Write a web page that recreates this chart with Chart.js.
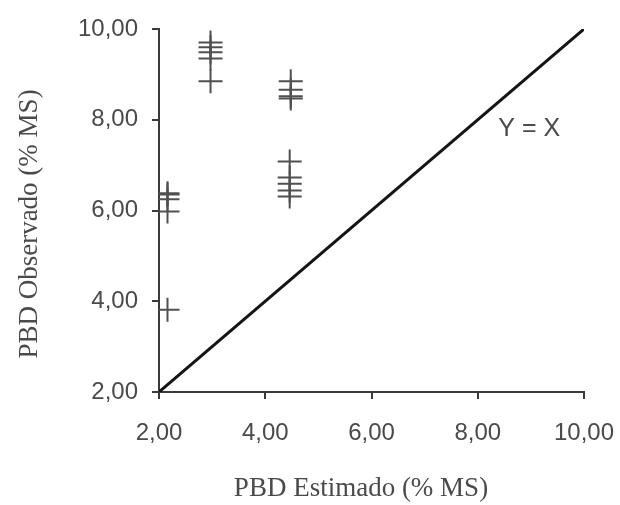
<!DOCTYPE html>
<html>
<head>
<meta charset="utf-8">
<script src="https://cdn.jsdelivr.net/npm/chart.js@4"></script>
<style>
  body { margin: 0; background: #fff; }
  #wrap { width: 620px; height: 505px; }
</style>
</head>
<body>
<div id="wrap"><canvas id="pbdChart" width="620" height="505"></canvas></div>
<script>
// Data
const estimado = [2.16, 2.16, 2.16, 2.16, 2.16, 2.97, 2.97, 2.97, 2.97, 2.97, 4.48, 4.48, 4.48, 4.48, 4.46, 4.46, 4.46, 4.46, 4.46];
const observado = [6.38, 6.35, 6.25, 5.98, 3.81, 9.70, 9.60, 9.49, 9.35, 8.85, 8.85, 8.66, 8.52, 8.47, 7.08, 6.73, 6.59, 6.44, 6.31];
const linhaX = [2, 10];
const linhaY = [2, 10];
const tickValues = [2, 4, 6, 8, 10];
const xTitle = 'PBD Estimado (% MS)';
const yTitle = 'PBD Observado (% MS)';
const lineLabel = 'Y = X';

const fmt = v => v.toFixed(2).replace('.', ',');
const textColor = '#4a4a4a';
const axisColor = '#3a3a3a';

// titles and the Y = X note drawn on top
const extraText = {
    id: 'extraText',
    afterDraw(chart) {
        const c = chart.ctx;
        const xs = chart.scales.x, ys = chart.scales.y;
        c.save();
        c.fillStyle = textColor;
        c.textAlign = 'center';
        c.textBaseline = 'middle';
        c.font = '27px "Liberation Serif", "Times New Roman", serif';
        c.fillText(xTitle, 361, 489);
        c.translate(30, 224);
        c.rotate(-Math.PI / 2);
        c.fillText(yTitle, 0, 0);
        c.restore();

        c.save();
        c.fillStyle = textColor;
        c.textAlign = 'center';
        c.textBaseline = 'middle';
        c.font = '25px "Liberation Sans", Arial, sans-serif';
        c.fillText(lineLabel, xs.getPixelForValue(8.97), ys.getPixelForValue(7.8));
        c.restore();
    }
};

const ctx = document.getElementById('pbdChart').getContext('2d');
const pbdChart = new Chart(ctx, {
    type: 'scatter',
    data: {
        datasets: [{
            label: 'Observado',
            data: estimado.map((x, i) => ({ x: x, y: observado[i] })),
            pointStyle: 'cross',
            pointRadius: 12,
            pointHoverRadius: 12,
            borderColor: '#505050',
            backgroundColor: '#505050',
            borderWidth: 2
        }, {
            type: 'line',
            label: 'Y = X',
            data: linhaX.map((x, i) => ({ x: x, y: linhaY[i] })),
            borderColor: '#151515',
            borderWidth: 3,
            pointRadius: 0,
            fill: false
        }]
    },
    options: {
        responsive: false,
        animation: false,
        layout: { padding: { left: 0, top: 29, right: 36, bottom: 0 } },
        plugins: { legend: { display: false }, tooltip: { enabled: false } },
        scales: {
            x: {
                type: 'linear',
                min: 2,
                max: 10,
                afterBuildTicks: s => { s.ticks = tickValues.map(v => ({ value: v })); },
                afterFit: s => { s.height = 505 - 392; s.paddingLeft = 0; s.paddingRight = 0; },
                grid: { drawOnChartArea: false, tickLength: 7, color: axisColor, lineWidth: 2 },
                border: { color: axisColor, width: 2 },
                ticks: {
                    padding: 20,
                    color: textColor,
                    font: { family: '"Liberation Sans", Arial, sans-serif', size: 24 },
                    callback: v => fmt(v),
                    maxRotation: 0
                }
            },
            y: {
                type: 'linear',
                min: 2,
                max: 10,
                afterBuildTicks: s => { s.ticks = tickValues.map(v => ({ value: v })); },
                afterFit: s => { s.width = 159; s.paddingTop = 0; s.paddingBottom = 0; },
                grid: { drawOnChartArea: false, tickLength: 7, color: axisColor, lineWidth: 2 },
                border: { color: axisColor, width: 2 },
                ticks: {
                    padding: 14,
                    color: textColor,
                    font: { family: '"Liberation Sans", Arial, sans-serif', size: 24 },
                    callback: v => fmt(v)
                }
            }
        }
    },
    plugins: [extraText]
});
</script>
</body>
</html>
